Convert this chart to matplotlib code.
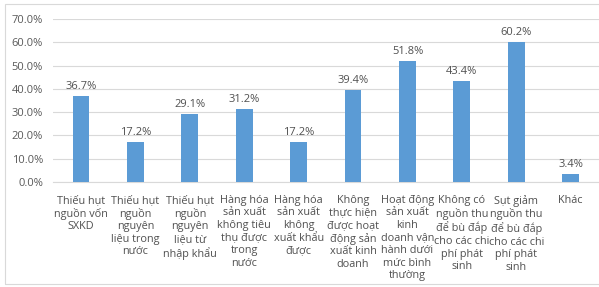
import numpy as np
import matplotlib.pyplot as plt
from matplotlib.patches import Rectangle

plt.rcParams['font.family'] = ['Open Sans', 'DejaVu Sans']

categories = [
    "Thiếu hụt\nnguồn vốn\nSXKD",
    "Thiếu hụt\nnguồn\nnguyên\nliệu trong\nnước",
    "Thiếu hụt\nnguồn\nnguyên\nliệu từ\nnhập khẩu",
    "Hàng hóa\nsản xuất\nkhông tiêu\nthụ được\ntrong\nnước",
    "Hàng hóa\nsản xuất\nkhông\nxuất khẩu\nđược",
    "Không\nthực hiện\nđược hoạt\nđộng sản\nxuất kinh\ndoanh",
    "Hoạt động\nsản xuất\nkinh\ndoanh vận\nhành dưới\nmức bình\nthường",
    "Không có\nnguồn thu\nđể bù đắp\ncho các chi\nphí phát\nsinh",
    "Sụt giảm\nnguồn thu\nđể bù đắp\ncho các chi\nphí phát\nsinh",
    "Khác",
]
values = [36.7, 17.2, 29.1, 31.2, 17.2, 39.4, 51.8, 43.4, 60.2, 3.4]
yticks = [0, 10, 20, 30, 40, 50, 60, 70]

fig = plt.figure(figsize=(5.99, 2.87), dpi=100)
ax = fig.add_axes([0.088, 0.366, 0.912, 0.568])

x = np.arange(len(values))
ax.bar(x, values, width=0.31, color='#5B9BD5', zorder=3)

for xi, v in zip(x, values):
    ax.text(xi, v + 1.8, f"{v:.1f}%", ha='center', va='bottom',
            fontsize=8, color='#505050')

ax.set_ylim(0, 70)
ax.set_xlim(-0.52, len(values) - 0.48)
ax.set_yticks(yticks)
ax.set_yticklabels([f"{t:.1f}%" for t in yticks], fontsize=8, color='#595959')
ax.yaxis.grid(True, color='#D9D9D9', linewidth=0.8, zorder=0)
ax.tick_params(axis='y', length=0, pad=7)
ax.tick_params(axis='x', length=0)
ax.set_xticks([])
for s in ['top', 'right', 'left']:
    ax.spines[s].set_visible(False)
ax.spines['bottom'].set_color('#D9D9D9')

for xi, lab in zip(x, categories):
    ax.text(xi, -5.5, lab, ha='center', va='top', fontsize=7.8,
            color='#505050', linespacing=1.2)

fig.patches.append(Rectangle((0.009, 0.01), 1.2, 0.975, transform=fig.transFigure,
                             fill=False, edgecolor='#D9D9D9', linewidth=0.8))

fig.savefig('out.png', dpi=100)
